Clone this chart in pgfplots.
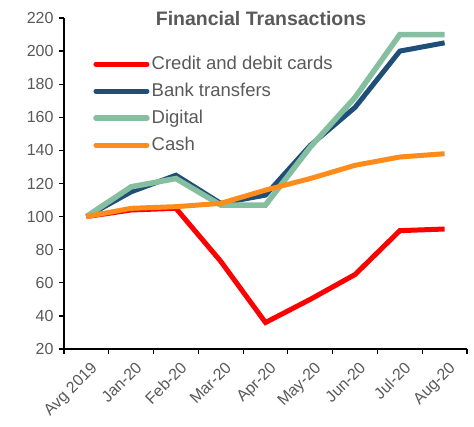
\documentclass[border=0pt]{standalone}
\usepackage{fontspec}
\setmainfont{Liberation Sans}
\usepackage{pgfplots}
\pgfplotsset{compat=1.18}
\definecolor{txtgray}{HTML}{595959}
\definecolor{cred}{HTML}{FF0000}
\definecolor{cbank}{HTML}{1F4E79}
\definecolor{cdig}{HTML}{86BFA0}
\definecolor{ccash}{HTML}{FF8C1A}
\begin{document}
\begin{tikzpicture}
\useasboundingbox (-64pt,-77pt) rectangle (410pt,349pt);
\begin{axis}[
  scale only axis, width=403pt, height=331pt,
  at={(0pt,0pt)}, anchor=south west,
  xmin=-0.5, xmax=8.5, ymin=20, ymax=220,
  axis x line=bottom, axis y line=left,
  axis line style={-, line width=1.2pt, black},
  xtick={0,...,8},
  xticklabels={Avg 2019,Jan-20,Feb-20,Mar-20,Apr-20,May-20,Jun-20,Jul-20,Aug-20},
  minor xtick={-0.5,0.5,...,8.5},
  major x tick style={draw=none},
  minor x tick style={line width=1.2pt, black},
  y tick style={line width=1.2pt, black},
  ytick={20,40,...,220},
  tick align=outside,
  major tick length=5pt, minor tick length=5pt,
  /pgf/number format/assume math mode=true,
  tick label style={font=\fontsize{16}{18}\selectfont, text=txtgray},
  xticklabel style={rotate=45, anchor=north east, xshift=1pt, yshift=-4pt},
  yticklabel style={xshift=-2pt},
  clip=false,
  legend style={draw=none, fill=none, at={(26pt,296pt)}, anchor=north west,
    font=\fontsize{18.5}{22}\selectfont, text=txtgray,
    nodes={text height=14pt, text depth=4pt, inner ysep=0pt, inner xsep=2pt},
    row sep=9pt},
  legend cell align=left,
  legend image code/.code={\draw[#1, line cap=round] (0pt,0pt) -- (51pt,0pt);},
]
\addplot[cred, line width=5pt] coordinates {(0,100) (1,104) (2,105) (3,73) (4,36) (5,50) (6,65) (7,91.5) (8,92.5)};
\addlegendentry{Credit and debit cards}
\addplot[cbank, line width=5pt] coordinates {(0,100) (1,115) (2,125) (3,108) (4,113) (5,143) (6,166) (7,200) (8,205)};
\addlegendentry{Bank transfers}
\addplot[cdig, line width=5.5pt] coordinates {(0,100) (1,118) (2,123) (3,107) (4,107) (5,142) (6,172) (7,210) (8,210)};
\addlegendentry{Digital}
\addplot[ccash, line width=5pt] coordinates {(0,100) (1,105) (2,106) (3,108) (4,116) (5,123) (6,131) (7,136) (8,138)};
\addlegendentry{Cash}
\end{axis}
\node[anchor=base, font=\bfseries\fontsize{19.5}{22}\selectfont, text=txtgray] at (197pt,323pt) {Financial Transactions};
\end{tikzpicture}
\end{document}
